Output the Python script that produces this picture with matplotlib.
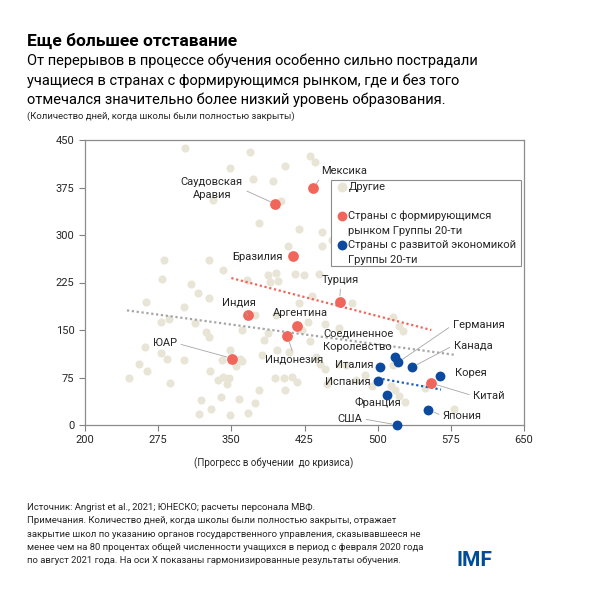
import matplotlib
matplotlib.use("Agg")
import matplotlib.pyplot as plt
from matplotlib.patches import Rectangle

plt.rcParams['font.family'] = ['Roboto', 'DejaVu Sans']

# --- data ---
others_x = [303, 369, 431, 436, 349, 405, 372, 393, 401, 331, 378, 419, 408, 443, 453, 443,
            281, 327, 341, 279, 309, 366, 388, 396, 390, 398, 415, 424, 440,
            316, 327, 263, 301, 419, 433, 474,
            278, 286, 313, 324, 327, 361, 374, 396, 388, 383, 397, 409, 381, 359,
            429, 446, 460, 422, 431, 516, 522, 526,
            262, 278, 284, 301, 255, 264, 245, 287,
            328, 349, 340, 361, 355, 336, 341, 348, 346,
            378, 374, 358, 339, 319, 329, 317, 349, 367,
            395, 404, 412, 417, 405,
            437, 441, 460, 468, 446, 450, 448, 478, 487, 494, 514, 518, 522, 528, 549, 578, 516]
others_y = [438, 431, 425, 415, 406, 409, 389, 385, 354, 355, 319, 310, 282, 305, 292, 283,
            260, 260, 244, 231, 223, 229, 237, 240, 226, 228, 239, 237, 238,
            209, 200, 194, 187, 192, 204, 192,
            163, 167, 161, 147, 139, 150, 174, 174, 145, 134, 119, 115, 110, 105,
            162, 160, 153, 150, 132, 171, 157, 148,
            123, 114, 104, 103, 96, 86, 74, 67,
            86, 119, 103, 101, 93, 71, 76, 75, 64,
            55, 35, 41, 45, 39, 26, 17, 16, 19,
            74, 75, 76, 68, 55,
            108, 97, 97, 95, 88, 70, 64, 71, 79, 61, 61, 55, 46, 37, 58, 26, 95]

em_names = ['Саудовская\nАравия', 'Мексика', 'Бразилия', 'Индия', 'Аргентина',
            'Индонезия', 'ЮАР', 'Турция', 'Китай']
em_x = [395, 434, 413, 367, 417, 407, 351, 461, 555]
em_y = [349, 374, 267, 173, 156, 141, 105, 195, 66]

ae_names = ['Германия', 'Соединенное\nКоролевство', 'Канада', 'Италия', 'Корея',
            'Испания', 'Франция', 'Япония', 'США']
ae_x = [521, 518, 535, 502, 564, 500, 510, 552, 520]
ae_y = [99, 108, 91, 92, 78, 70, 47, 24, 0]

# dotted trend lines (end points)
trend_all_x = [243, 578]
trend_all_y = [181, 111]
trend_em_x = [350, 555]
trend_em_y = [232, 150]
trend_ae_x = [500, 565]
trend_ae_y = [74, 56]

x_ticks = [200, 275, 350, 425, 500, 575, 650]
y_ticks = [0, 75, 150, 225, 300, 375, 450]

# label placement: (text x, text y, ha, va, leader)
em_label_pos = {
    'Саудовская\nАравия': (330, 374, 'center', 'center', (1.0, 0.45)),
    'Мексика': (466, 401, 'center', 'center', (0.0, 0.0)),
    'Бразилия': (403, 265, 'right', 'center', None),
    'Индия': (358, 194, 'center', 'center', (0.6, 0.0)),
    'Аргентина': (421, 177, 'center', 'center', None),
    'Индонезия': (414, 103, 'center', 'center', (0.5, 1.0)),
    'ЮАР': (282, 129, 'center', 'center', (1.0, 0.5)),
    'Турция': (462, 229, 'center', 'center', (0.5, 0.0)),
    'Китай': (598, 46, 'left', 'center', (0.0, 0.5)),
}
ae_label_pos = {
    'Германия': (577, 158, 'left', 'center', (0.0, 0.5)),
    'Соединенное\nКоролевство': (444, 134, 'left', 'center', None),
    'Канада': (578, 126, 'left', 'center', (0.0, 0.5)),
    'Италия': (496, 95, 'right', 'center', None),
    'Корея': (579, 82, 'left', 'center', None),
    'Испания': (493, 68, 'right', 'center', None),
    'Франция': (500, 35, 'center', 'center', None),
    'Япония': (567, 14, 'left', 'center', (0.0, 0.5)),
    'США': (484, 10, 'right', 'center', (1.0, 0.5)),
}

c_other = '#E8E4D6'
c_em = '#F0665A'
c_ae = '#0B4A9E'
c_txt = '#262626'

fig = plt.figure(figsize=(5.9, 5.9), dpi=100)
ax = fig.add_axes([85 / 590, 1 - 425 / 590, 439 / 590, 285 / 590])

ax.scatter(others_x, others_y, s=34, color=c_other, linewidths=0, zorder=2)
ax.plot(trend_all_x, trend_all_y, ls=(0, (1, 1.2)), color='#A6A6A6', lw=1.6, zorder=3)
ax.plot(trend_em_x, trend_em_y, ls=(0, (1, 1.2)), color=c_em, lw=1.6, zorder=3)
ax.plot(trend_ae_x, trend_ae_y, ls=(0, (1, 1.2)), color='#1F5FB8', lw=1.6, zorder=3)
ax.scatter(em_x, em_y, s=60, color=c_em, linewidths=0, zorder=4)
ax.scatter(ae_x, ae_y, s=50, color=c_ae, linewidths=0, zorder=4, clip_on=False)


def put_labels(names, xs, ys, pos):
    for name, x, y in zip(names, xs, ys):
        tx, ty, ha, va, rel = pos[name]
        kw = {}
        if rel is not None:
            kw['arrowprops'] = dict(arrowstyle='-', color='#A6A6A6', lw=0.6,
                                    relpos=rel, shrinkA=1, shrinkB=4)
        ax.annotate(name, xy=(x, y), xytext=(tx, ty), textcoords='data',
                    ha=ha, va=va, fontsize=8, color=c_txt, linespacing=1.35,
                    zorder=5, **kw)


put_labels(em_names, em_x, em_y, em_label_pos)
put_labels(ae_names, ae_x, ae_y, ae_label_pos)

ax.set_xlim(200, 650)
ax.set_ylim(0, 450)
ax.set_xticks(x_ticks)
ax.set_yticks(y_ticks)
ax.tick_params(direction='out', length=4, width=0.8, color='#808080',
               labelsize=8, labelcolor=c_txt)
for sp in ax.spines.values():
    sp.set_color('#8C8C8C')
    sp.set_linewidth(0.9)

# legend box drawn by hand
ax.add_patch(Rectangle((0.560, 0.558), 0.433, 0.302, transform=ax.transAxes,
                       facecolor='white', edgecolor='#8C8C8C', lw=0.8, zorder=6))
leg = [(c_other, 'Другие', None, 0.835),
       (c_em, 'Страны с формирующимся', 'рынком Группы 20-ти', 0.733),
       (c_ae, 'Страны с развитой экономикой', 'Группы 20-ти', 0.632)]
for col, l1, l2, yy in leg:
    ax.scatter([0.585], [yy], s=50, color=col, transform=ax.transAxes, zorder=7,
               linewidths=0)
    ax.text(0.600, yy, l1, transform=ax.transAxes, fontsize=8, color=c_txt,
            va='center', ha='left', zorder=7)
    if l2:
        ax.text(0.600, yy - 0.052, l2, transform=ax.transAxes, fontsize=8,
                color=c_txt, va='center', ha='left', zorder=7)

fig.text(274 / 590, 1 - 463 / 590, '(Прогресс в обучении  до кризиса)', fontsize=7,
         color=c_txt, ha='center', va='center')

# headings
fig.text(27 / 590, 1 - 46 / 590, 'Еще большее отставание', fontsize=12.5,
         fontweight='bold', color='black', va='baseline')
sub = ['От перерывов в процессе обучения особенно сильно пострадали',
       'учащиеся в странах с формирующимся рынком, где и без того',
       'отмечался значительно более низкий уровень образования.']
for i, line in enumerate(sub):
    fig.text(27 / 590, 1 - (65 + 19.5 * i) / 590, line, fontsize=10.5,
             color='black', va='baseline')
fig.text(27 / 590, 1 - 119 / 590, '(Количество дней, когда школы были полностью закрыты)',
         fontsize=6.8, color=c_txt, va='baseline')

notes = ['Источник: Angrist et al., 2021; ЮНЕСКО; расчеты персонала МВФ.',
         'Примечания. Количество дней, когда школы были полностью закрыты, отражает',
         'закрытие школ по указанию органов государственного управления, сказывавшееся не',
         'менее чем на 80 процентах общей численности учащихся в период с февраля 2020 года',
         'по август 2021 года. На оси X показаны гармонизированные результаты обучения.']
for i, line in enumerate(notes):
    fig.text(27 / 590, 1 - (510 + 13.3 * i) / 590, line, fontsize=6.8,
             color=c_txt, va='baseline')

fig.text(457 / 590, 1 - 566 / 590, 'IMF', fontsize=15, fontweight='bold',
         color='#004C97', va='baseline')

fig.savefig('out.png', dpi=100, facecolor='white')
